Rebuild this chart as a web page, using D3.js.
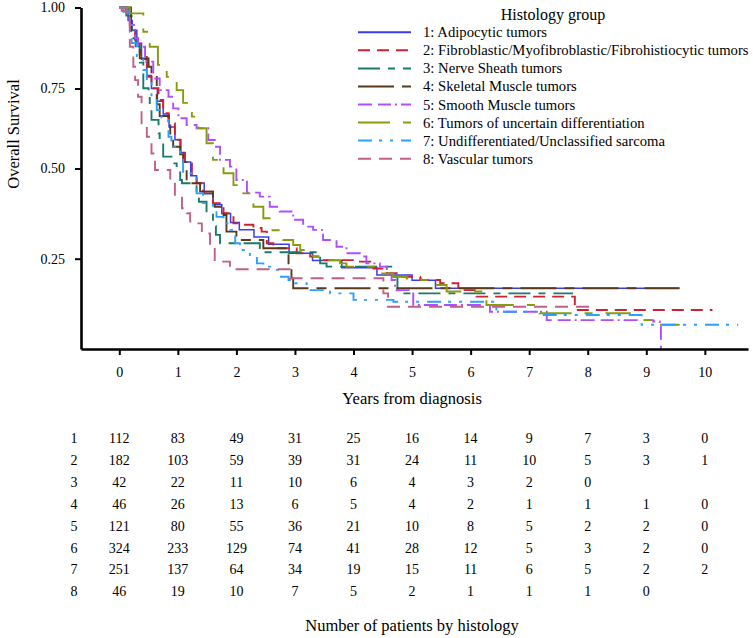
<!DOCTYPE html>
<html><head><meta charset="utf-8">
<script src="https://cdn.jsdelivr.net/npm/d3@7"></script>
<style>
body{margin:0;background:#fff;}
text{font-family:"Liberation Serif","Times New Roman",serif;fill:#000;}
</style></head>
<body><svg id="chart" width="753" height="638"></svg>
<script>
// ---------- data ----------
const groupNames = ["1: Adipocytic tumors","2: Fibroblastic/Myofibroblastic/Fibrohistiocytic tumors","3: Nerve Sheath tumors","4: Skeletal Muscle tumors","5: Smooth Muscle tumors","6: Tumors of uncertain differentiation","7: Undifferentiated/Unclassified sarcoma","8: Vascular tumors"];
const groupColors = ["#3b3bef","#cc2233","#1a7a6a","#5a3a1a","#b04eff","#8a9a10","#2aa0ff","#c0608a"];
const groupDashes = ["none","12,7","22,8,7,8","36,8,10,8","14,6,13,4,2,4","32,13,8,13","14,7,3,8,3,8","13,8"];

const time1 = [0,0.15,0.22,0.30,0.38,0.47,0.55,0.65,0.75,0.85,0.95,1.05,1.12,1.22,1.32,1.45,1.60,1.75,1.90,2.05,2.30,2.55,2.90,3.30,3.80,4.40,5.00,5.40,9.55];
const surv1 = [1,0.96,0.93,0.89,0.84,0.79,0.75,0.71,0.67,0.63,0.59,0.55,0.52,0.48,0.46,0.43,0.40,0.375,0.35,0.33,0.31,0.29,0.265,0.245,0.225,0.205,0.19,0.168,0.168];

const time2 = [0,0.12,0.18,0.27,0.35,0.47,0.55,0.67,0.75,0.84,0.95,1.04,1.12,1.24,1.32,1.43,1.60,1.78,1.95,2.12,2.29,2.43,2.52,2.63,3.03,3.26,3.43,4.11,4.34,4.57,4.79,5.14,5.48,5.79,6.10,7.78,10.13];
const surv2 = [1,0.97,0.936,0.90,0.853,0.786,0.751,0.714,0.673,0.641,0.590,0.548,0.516,0.477,0.459,0.436,0.404,0.376,0.348,0.344,0.335,0.325,0.293,0.279,0.265,0.256,0.246,0.242,0.223,0.210,0.200,0.191,0.182,0.163,0.145,0.108,0.108];

const time3 = [0,0.12,0.21,0.28,0.35,0.41,0.50,0.52,0.55,0.67,0.69,0.75,0.89,0.98,1.04,1.07,1.32,1.36,1.49,1.60,1.65,1.72,2.40,3.43,3.54,4.68,4.75,7.75];
const surv3 = [1,0.975,0.93,0.88,0.83,0.751,0.724,0.683,0.652,0.610,0.579,0.537,0.516,0.496,0.468,0.459,0.431,0.408,0.376,0.340,0.316,0.293,0.268,0.237,0.228,0.200,0.154,0.154];

const time4 = [0,0.20,0.24,0.32,0.35,0.50,0.55,0.64,0.69,0.84,0.87,0.92,1.04,1.09,1.15,1.38,1.60,1.63,1.78,1.83,2.00,2.46,2.89,2.94,2.97,9.57];
const surv4 = [1,0.925,0.905,0.869,0.843,0.817,0.786,0.701,0.664,0.648,0.606,0.568,0.544,0.520,0.459,0.436,0.412,0.394,0.371,0.325,0.302,0.279,0.228,0.196,0.168,0.168];

const time5 = [0,0.13,0.18,0.27,0.32,0.44,0.58,0.69,0.84,0.92,1.01,1.15,1.32,1.52,1.63,1.72,1.89,2.00,2.18,2.40,2.57,2.74,2.97,3.14,3.31,3.48,3.71,3.88,4.11,4.22,4.45,4.57,4.65,4.71,5.02,6.33,7.30,9.12,9.23,9.25];
const surv5 = [1,0.972,0.946,0.905,0.879,0.833,0.781,0.745,0.724,0.688,0.657,0.636,0.626,0.589,0.568,0.527,0.506,0.468,0.433,0.422,0.394,0.381,0.358,0.339,0.330,0.302,0.283,0.265,0.256,0.237,0.228,0.209,0.191,0.163,0.122,0.103,0.080,0.076,0.062,0];

const time6 = [0,0.18,0.41,0.52,0.66,0.81,0.98,1.09,1.24,1.35,1.49,1.60,1.78,1.95,2.12,2.29,2.46,2.60,2.80,2.97,3.09,3.31,3.54,3.77,3.88,4.45,4.68,4.91,5.16,5.39,5.59,6.21,6.27,7.18,8.72,8.95,9.12,9.57];
const surv6 = [1,0.982,0.925,0.879,0.823,0.786,0.745,0.705,0.662,0.626,0.579,0.527,0.487,0.454,0.431,0.394,0.362,0.329,0.302,0.288,0.274,0.256,0.246,0.237,0.228,0.209,0.200,0.195,0.191,0.177,0.159,0.136,0.122,0.099,0.094,0.080,0.067,0.067];

const time7 = [0,0.07,0.18,0.21,0.30,0.41,0.47,0.55,0.64,0.72,0.84,0.89,1.04,1.09,1.32,1.43,1.60,1.66,1.78,1.89,1.98,2.06,2.23,2.35,2.46,2.63,2.74,2.89,2.97,3.20,3.60,4.00,4.68,6.44,7.18,8.92,10.57];
const surv7 = [1,0.987,0.925,0.890,0.85,0.807,0.766,0.722,0.683,0.652,0.599,0.568,0.537,0.487,0.431,0.404,0.385,0.366,0.348,0.330,0.293,0.274,0.256,0.237,0.228,0.219,0.200,0.191,0.182,0.163,0.154,0.136,0.131,0.103,0.094,0.067,0.067];

const time8 = [0,0.04,0.13,0.18,0.24,0.27,0.32,0.38,0.47,0.55,0.61,0.87,0.95,1.07,1.15,1.21,1.29,1.41,1.55,1.63,1.89,2.91,4.51,4.59,8.07];
const surv8 = [1,0.99,0.972,0.879,0.817,0.776,0.724,0.641,0.599,0.547,0.496,0.468,0.422,0.390,0.376,0.353,0.348,0.320,0.283,0.242,0.221,0.196,0.154,0.117,0.117];

const allTimes = [time1,time2,time3,time4,time5,time6,time7,time8];
const allSurv = [surv1,surv2,surv3,surv4,surv5,surv6,surv7,surv8];

// numbers at risk
const riskYears = [0,1,2,3,4,5,6,7,8,9,10];
const risk1 = [112,83,49,31,25,16,14,9,7,3,0];
const risk2 = [182,103,59,39,31,24,11,10,5,3,1];
const risk3 = [42,22,11,10,6,4,3,2,0];
const risk4 = [46,26,13,6,5,4,2,1,1,1,0];
const risk5 = [121,80,55,36,21,10,8,5,2,2,0];
const risk6 = [324,233,129,74,41,28,12,5,3,2,0];
const risk7 = [251,137,64,34,19,15,11,6,5,2,2];
const risk8 = [46,19,10,7,5,2,1,1,1,0];
const riskRows = [risk1,risk2,risk3,risk4,risk5,risk6,risk7,risk8];
const riskLabels = ["1","2","3","4","5","6","7","8"];

const xTicks = [0,1,2,3,4,5,6,7,8,9,10];
const yTicks = [1,0.75,0.5,0.25];

// ---------- drawing ----------
const svg = d3.select("#chart");
const x = d3.scaleLinear().domain([-0.654, 10.737]).range([81, 748]);
const y = d3.scaleLinear().domain([1, 0.75, 0.5, 0.25, 0]).range([7.5, 88.5, 168.5, 258.7, 349]);

const line = d3.line().x(d => x(d[0])).y(d => y(d[1])).curve(d3.curveStepAfter);

allTimes.forEach((ts, i) => {
  const pts = ts.map((t, j) => [t, allSurv[i][j]]);
  svg.append("path").datum(pts)
    .attr("d", line)
    .attr("fill", "none")
    .attr("stroke", groupColors[i])
    .attr("stroke-width", i === 0 ? 1.5 : 1.9)
    .attr("stroke-dasharray", groupDashes[i]);
});

// axes
const gy = svg.append("g").attr("transform", "translate(81,0)")
  .call(d3.axisLeft(y).tickValues(yTicks).tickFormat(d3.format(".2f")).tickSize(6).tickSizeOuter(0).tickPadding(10));
const gx = svg.append("g").attr("transform", "translate(0,349)")
  .call(d3.axisBottom(x).tickValues(xTicks).tickFormat(d3.format("d")).tickSize(6).tickSizeOuter(0).tickPadding(12));
[gx, gy].forEach(g => {
  g.select(".domain").attr("stroke", "#000").attr("stroke-width", 2.6);
  g.selectAll(".tick line").attr("stroke", "#000").attr("stroke-width", 2);
  g.selectAll(".tick text").attr("font-family", "Liberation Serif").attr("font-size", 14).attr("fill", "#000");
});

// axis titles
svg.append("text").attr("transform", "translate(19,134) rotate(-90)")
  .attr("text-anchor", "middle").attr("font-size", 16.5).text("Overall Survival");
svg.append("text").attr("x", x(5)).attr("y", 404)
  .attr("text-anchor", "middle").attr("font-size", 16.5).text("Years from diagnosis");

// legend
const lg = svg.append("g");
lg.append("text").attr("x", 553).attr("y", 19.5).attr("text-anchor", "middle")
  .attr("font-size", 16).text("Histology group");
groupNames.forEach((name, i) => {
  const cy = 32.3 + 18.05 * i;
  lg.append("line").attr("x1", 358).attr("x2", 411).attr("y1", cy).attr("y2", cy)
    .attr("stroke", groupColors[i]).attr("stroke-width", 2)
    .attr("stroke-dasharray", groupDashes[i]);
  lg.append("text").attr("x", 423).attr("y", cy + 5).attr("font-size", 14.7).text(name);
});

// risk table
const tg = svg.append("g");
riskRows.forEach((row, i) => {
  const by = 443 + 21.9 * i;
  tg.append("text").attr("x", 74).attr("y", by).attr("text-anchor", "middle")
    .attr("font-size", 14).text(riskLabels[i]);
  row.forEach((v, j) => {
    tg.append("text").attr("x", x(riskYears[j])).attr("y", by).attr("text-anchor", "middle")
      .attr("font-size", 14).text(v);
  });
});
svg.append("text").attr("x", x(5)).attr("y", 631).attr("text-anchor", "middle")
  .attr("font-size", 16.5).text("Number of patients by histology");
</script></body></html>
